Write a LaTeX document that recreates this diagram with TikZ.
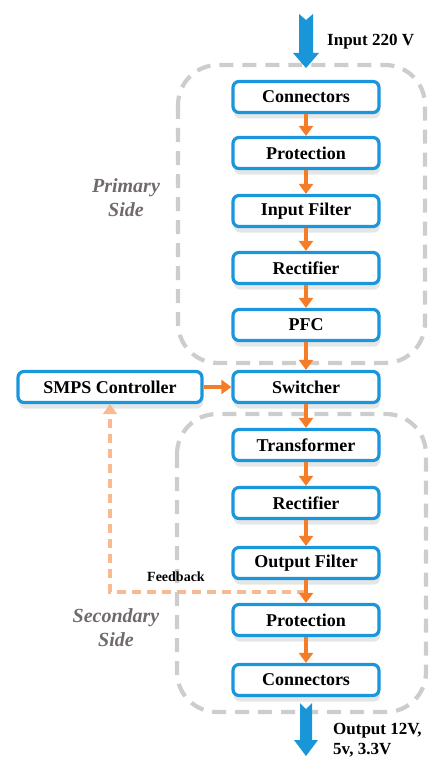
\documentclass[tikz,border=0pt]{standalone}
\usepackage{fontspec}
\setmainfont{Liberation Serif}
\usetikzlibrary{arrows.meta,shadows}
\definecolor{boxblue}{RGB}{26,150,220}
\definecolor{arrorange}{RGB}{245,125,40}
\definecolor{fborange}{RGB}{250,185,145}
\definecolor{dashgray}{RGB}{205,205,205}
\definecolor{sidegray}{RGB}{112,106,106}
\definecolor{bigblue}{RGB}{25,150,215}
\begin{document}
\begin{tikzpicture}[x=1pt,y=-1pt,
  blk/.style={draw=boxblue, line width=3.2pt, rounded corners=6pt, fill=white,
    minimum width=146pt, minimum height=31pt, inner sep=0pt,
    font=\fontsize{18}{20}\selectfont\bfseries,
    drop shadow={shadow xshift=1pt,shadow yshift=-6pt,opacity=0.22,fill=black!45}},
  flow/.style={draw=arrorange, line width=4.5pt, -{Triangle[length=10pt,width=14pt]}},
  region/.style={draw=dashgray, line width=4.2pt, dash pattern=on 14pt off 9pt, rounded corners=40pt},
  fbline/.style={draw=fborange, line width=4.5pt, dash pattern=on 9pt off 6pt, -{Triangle[length=10pt,width=14pt]}},
  lbl/.style={font=\fontsize{17}{20}\selectfont\bfseries, inner sep=0pt},
  side/.style={font=\fontsize{20}{24}\selectfont\bfseries\itshape, text=sidegray, align=center, inner sep=0pt}
]
\useasboundingbox (0,0) rectangle (432,757);

% dashed regions
\draw[region] (178,65) rectangle (425,363);
\draw[region] (177,414) rectangle (426,712);

% big blue arrows
\fill[bigblue] (299,14) -- (306,20) -- (313,14) -- (313,53) -- (319,53) -- (306,68) -- (293,53) -- (299,53) -- cycle;
\fill[bigblue] (300,703) -- (306,709) -- (312,703) -- (312,740) -- (318,740) -- (306,756) -- (294,740) -- (300,740) -- cycle;

\node[lbl, anchor=west] (inlbl) at (327,42) {Input 220 V};
\node[lbl, anchor=west, align=left] (outlbl) at (333,740) {Output 12V,\\5v, 3.3V};

% boxes
\node[blk] (con1) at (306,97) {Connectors};
\node[blk] (pro1) at (306,153) {Protection};
\node[blk] (ifl) at (306,211) {Input Filter};
\node[blk] (rec1) at (306,268) {Rectifier};
\node[blk] (pfc) at (306,325) {PFC};
\node[blk] (sw) at (306,387) {Switcher};
\node[blk, minimum width=184pt] (smps) at (110,387) {SMPS Controller};
\node[blk] (tr) at (306,445) {Transformer};
\node[blk] (rec2) at (306,503) {Rectifier};
\node[blk] (ofl) at (306,563) {Output Filter};
\node[blk] (pro2) at (306,620) {Protection};
\node[blk] (con2) at (306,680) {Connectors};

% feedback
\coordinate (fb) at (306,592);
\draw[fbline] (fb) -| (smps.south);
\node[font=\fontsize{14}{16}\selectfont\bfseries, inner sep=0pt] (fblbl) at (176,577) {Feedback};

% flow arrows
\draw[flow] (con1) -- (pro1);
\draw[flow] (pro1) -- (ifl);
\draw[flow] (ifl) -- (rec1);
\draw[flow] (rec1) -- (pfc);
\draw[flow] (pfc) -- (sw);
\draw[flow] (smps) -- (sw);
\draw[flow] (sw) -- (tr);
\draw[flow] (tr) -- (rec2);
\draw[flow] (rec2) -- (ofl);
\draw[flow] (ofl) -- (pro2);
\draw[flow] (pro2) -- (con2);

% side labels
\node[side] (prim) at (126,198) {Primary\\Side};
\node[side] (sec) at (116,628) {Secondary\\Side};
\end{tikzpicture}
\end{document}
